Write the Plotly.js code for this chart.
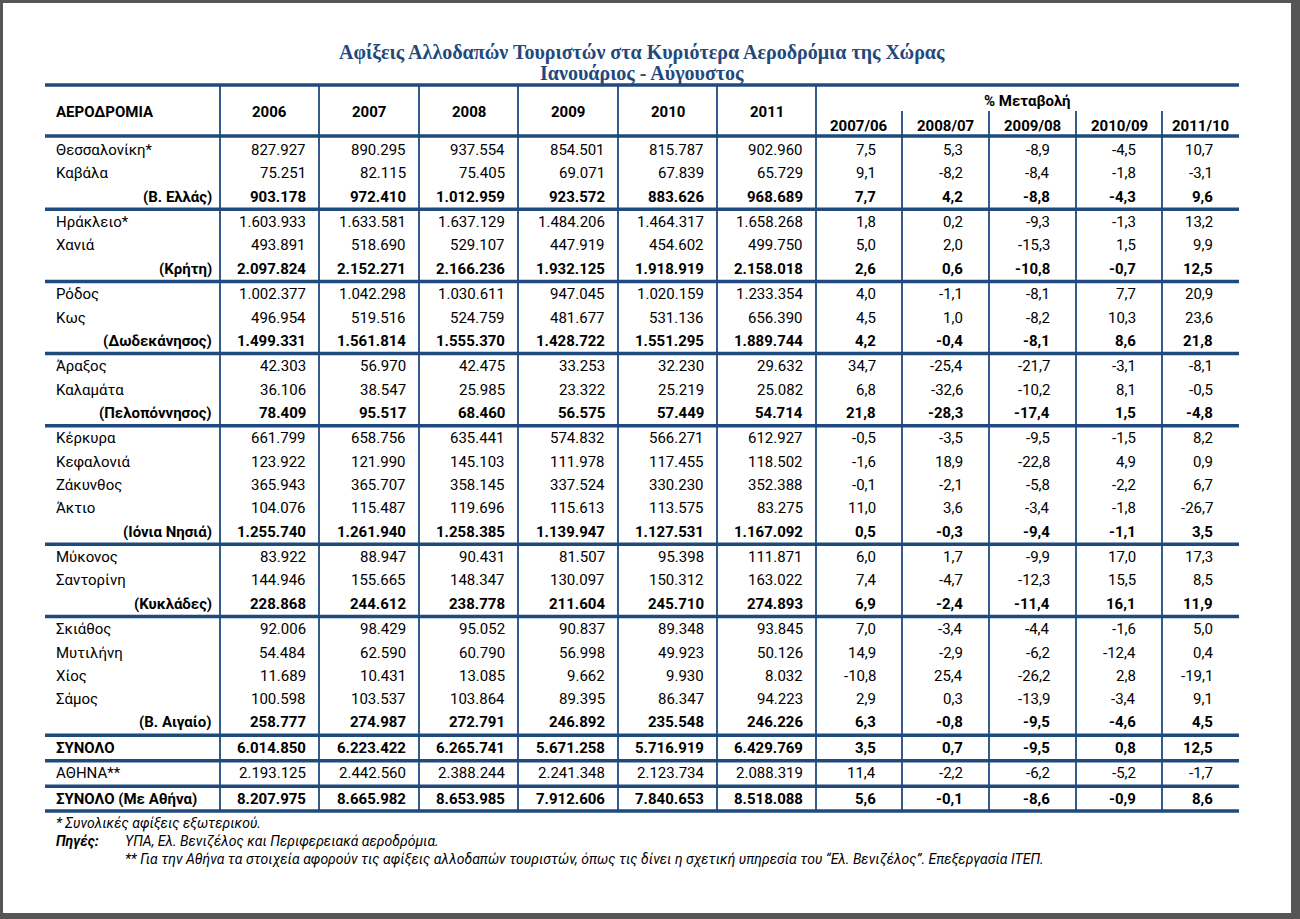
<!DOCTYPE html>
<html>
<head>
<meta charset="utf-8">
<script src="https://cdn.plot.ly/plotly-3.0.1.min.js"></script>
<style>html,body{margin:0;padding:0;background:#565656;}#chart{width:1300px;height:919px;}</style>
</head>
<body>
<div id="chart"></div>
<script>
// ---------- DATA ----------
const titleLine1 = "Αφίξεις Αλλοδαπών Τουριστών στα Κυριότερα Αεροδρόμια της Χώρας";
const titleLine2 = "Ιανουάριος - Αύγουστος";
const firstHeader = "ΑΕΡΟΔΡΟΜΙΑ";
const years = ["2006","2007","2008","2009","2010","2011"];
const changeHeader = "% Μεταβολή";
const changes = ["2007/06","2008/07","2009/08","2010/09","2011/10"];

const airports = ["Θεσσαλονίκη*","Καβάλα","(Β. Ελλάς)",
  "Ηράκλειο*","Χανιά","(Κρήτη)",
  "Ρόδος","Κως","(Δωδεκάνησος)",
  "Άραξος","Καλαμάτα","(Πελοπόννησος)",
  "Κέρκυρα","Κεφαλονιά","Ζάκυνθος","Άκτιο","(Ιόνια Νησιά)",
  "Μύκονος","Σαντορίνη","(Κυκλάδες)",
  "Σκιάθος","Μυτιλήνη","Χίος","Σάμος","(Β. Αιγαίο)",
  "ΣΥΝΟΛΟ","ΑΘΗΝΑ**","ΣΥΝΟΛΟ (Με Αθήνα)"];
// n = airport, s = regional subtotal, t = total
const rowType = ["n","n","s","n","n","s","n","n","s","n","n","s","n","n","n","n","s","n","n","s","n","n","n","n","s","t","n","t"];
const groupSizes = [3,3,3,3,5,3,5,1,1,1];

const a2006 = [827927,75251,903178,1603933,493891,2097824,1002377,496954,1499331,42303,36106,78409,661799,123922,365943,104076,1255740,83922,144946,228868,92006,54484,11689,100598,258777,6014850,2193125,8207975];
const a2007 = [890295,82115,972410,1633581,518690,2152271,1042298,519516,1561814,56970,38547,95517,658756,121990,365707,115487,1261940,88947,155665,244612,98429,62590,10431,103537,274987,6223422,2442560,8665982];
const a2008 = [937554,75405,1012959,1637129,529107,2166236,1030611,524759,1555370,42475,25985,68460,635441,145103,358145,119696,1258385,90431,148347,238778,95052,60790,13085,103864,272791,6265741,2388244,8653985];
const a2009 = [854501,69071,923572,1484206,447919,1932125,947045,481677,1428722,33253,23322,56575,574832,111978,337524,115613,1139947,81507,130097,211604,90837,56998,9662,89395,246892,5671258,2241348,7912606];
const a2010 = [815787,67839,883626,1464317,454602,1918919,1020159,531136,1551295,32230,25219,57449,566271,117455,330230,113575,1127531,95398,150312,245710,89348,49923,9930,86347,235548,5716919,2123734,7840653];
const a2011 = [902960,65729,968689,1658268,499750,2158018,1233354,656390,1889744,29632,25082,54714,612927,118502,352388,83275,1167092,111871,163022,274893,93845,50126,8032,94223,246226,6429769,2088319,8518088];

const c0706 = [7.5,9.1,7.7,1.8,5.0,2.6,4.0,4.5,4.2,34.7,6.8,21.8,-0.5,-1.6,-0.1,11.0,0.5,6.0,7.4,6.9,7.0,14.9,-10.8,2.9,6.3,3.5,11.4,5.6];
const c0807 = [5.3,-8.2,4.2,0.2,2.0,0.6,-1.1,1.0,-0.4,-25.4,-32.6,-28.3,-3.5,18.9,-2.1,3.6,-0.3,1.7,-4.7,-2.4,-3.4,-2.9,25.4,0.3,-0.8,0.7,-2.2,-0.1];
const c0908 = [-8.9,-8.4,-8.8,-9.3,-15.3,-10.8,-8.1,-8.2,-8.1,-21.7,-10.2,-17.4,-9.5,-22.8,-5.8,-3.4,-9.4,-9.9,-12.3,-11.4,-4.4,-6.2,-26.2,-13.9,-9.5,-9.5,-6.2,-8.6];
const c1009 = [-4.5,-1.8,-4.3,-1.3,1.5,-0.7,7.7,10.3,8.6,-3.1,8.1,1.5,-1.5,4.9,-2.2,-1.8,-1.1,17.0,15.5,16.1,-1.6,-12.4,2.8,-3.4,-4.6,0.8,-5.2,-0.9];
const c1110 = [10.7,-3.1,9.6,13.2,9.9,12.5,20.9,23.6,21.8,-8.1,-0.5,-4.8,8.2,0.9,6.7,-26.7,3.5,17.3,8.5,11.9,5.0,0.4,-19.1,9.1,4.5,12.5,-1.7,8.6];

const footStar = "* Συνολικές αφίξεις εξωτερικού.";
const footSourcesLabel = "Πηγές:";
const footSources = "ΥΠΑ, Ελ. Βενιζέλος και Περιφερειακά αεροδρόμια.";
const footAthens = "** Για την Αθήνα τα στοιχεία αφορούν τις αφίξεις αλλοδαπών τουριστών, όπως τις δίνει η σχετική υπηρεσία του “Ελ. Βενιζέλος”. Επεξεργασία ΙΤΕΠ.";

// ---------- LAYOUT / STYLE ----------
const W = 1300, H = 919;
const LINE = "#1f4a7d";
const TITLE_C = "#1f497d";
const BODY_FONT = "Roboto, 'Noto Sans', sans-serif";
const FS = 15;
const colX = [45,220,319,419,518,618,717,816,902,989,1076,1162,1239];
const tableTop = 85, headerBottom = 136, subHeaderTop = 111;
const firstRowY = 150, pitch = 23.3, groupGap = 2.2;

const yearCols = [a2006,a2007,a2008,a2009,a2010,a2011];
const changeCols = [c0706,c0807,c0908,c1009,c1110];

function fmtInt(n){ return String(n).replace(/\B(?=(\d{3})+(?!\d))/g, "."); }
function fmtPct(n){ return n.toFixed(1).replace(".", ","); }

// row center positions
const rowY = [];
const groupEnd = [];
{
  let idx = 0, y = firstRowY;
  groupSizes.forEach((g) => {
    for (let k = 0; k < g; k++) {
      rowY.push(y);
      idx++;
      y += pitch;
    }
    groupEnd.push(idx - 1);
    y += groupGap;
  });
}
const tableBottom = rowY[rowY.length-1] + 12;

const annotations = [];
const shapes = [];

// page
shapes.push({type:"rect", xref:"x", yref:"y", x0:3, y0:3, x1:1291, y1:913, fillcolor:"#ffffff", line:{width:0}, layer:"below"});

function ann(text, x, y, xanchor, size, opts) {
  opts = opts || {};
  annotations.push({
    text: text, x: x, y: y, xref: "x", yref: "y",
    xanchor: xanchor, yanchor: "middle", showarrow: false,
    font: {family: opts.family || BODY_FONT, size: size, color: opts.color || "#000000"},
    borderpad: 0
  });
}

// title
const titleCx = 642;
ann("<b>" + titleLine1 + "</b>", titleCx, 52, "center", 20, {family:"'Liberation Serif', 'DejaVu Serif', serif", color:TITLE_C});
ann("<b>" + titleLine2 + "</b>", titleCx, 73, "center", 20, {family:"'Liberation Serif', 'DejaVu Serif', serif", color:TITLE_C});

// header
ann("<b>" + firstHeader + "</b>", 55, 112, "left", FS);
years.forEach((yr, i) => ann("<b>" + yr + "</b>", (colX[i+1] + colX[i+2]) / 2, 112, "center", FS));
ann("<b>" + changeHeader + "</b>", (colX[7] + colX[12]) / 2, 101, "center", FS);
changes.forEach((c, i) => ann("<b>" + c + "</b>", (colX[7+i] + colX[8+i]) / 2, 126, "center", FS));

// body
airports.forEach((name, r) => {
  const t = rowType[r];
  const bold = t !== "n";
  const wrap = s => bold ? "<b>" + s + "</b>" : s;
  if (t === "s") ann(wrap(name), 213, rowY[r], "right", FS);
  else ann(wrap(name), 55, rowY[r], "left", FS);
  yearCols.forEach((col, c) => ann(wrap(fmtInt(col[r])), colX[c+2] - 12, rowY[r], "right", FS));
  changeCols.forEach((col, c) => ann(wrap(fmtPct(col[r])), colX[c+8] - 25, rowY[r], "right", FS));
});

// footnotes
const FN = 14;
ann("<i>" + footStar + "</i>", 55, 823, "left", FN);
ann("<b><i>" + footSourcesLabel + "</i></b>", 55, 841, "left", FN);
ann("<i>" + footSources + "</i>", 124, 841, "left", FN);
ann("<i>" + footAthens + "</i>", 124, 859, "left", FN);

// horizontal lines
function hline(y, w) { shapes.push({type:"line", xref:"x", yref:"y", x0:colX[0], x1:colX[12], y0:y, y1:y, line:{color:LINE, width:w}}); }
hline(tableTop, 3.5);
hline(headerBottom, 3.5);
groupEnd.forEach(r => {
  if (r < rowY.length - 1) hline((rowY[r] + rowY[r+1]) / 2, 3.5);
});
hline(tableBottom, 3.5);

// vertical lines
for (let i = 1; i <= 7; i++) {
  shapes.push({type:"line", xref:"x", yref:"y", x0:colX[i], x1:colX[i], y0:tableTop, y1:tableBottom, line:{color:LINE, width:1.8}});
}
for (let i = 8; i <= 11; i++) {
  shapes.push({type:"line", xref:"x", yref:"y", x0:colX[i], x1:colX[i], y0:subHeaderTop, y1:tableBottom, line:{color:LINE, width:1.8}});
}

const layout = {
  width: W, height: H,
  margin: {l:0, r:0, t:0, b:0, pad:0},
  paper_bgcolor: "#565656",
  plot_bgcolor: "#565656",
  showlegend: false,
  xaxis: {range:[0, W], visible:false, fixedrange:true},
  yaxis: {range:[H, 0], visible:false, fixedrange:true},
  shapes: shapes,
  annotations: annotations
};

Plotly.newPlot("chart", [{x:[], y:[], type:"scatter", mode:"markers", hoverinfo:"skip"}], layout, {staticPlot:true, displayModeBar:false});
</script>
</body>
</html>
